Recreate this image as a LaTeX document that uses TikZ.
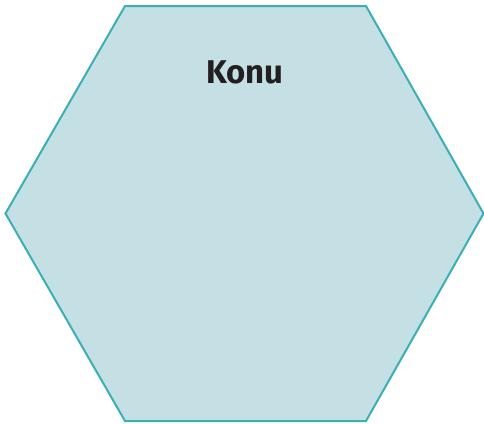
\documentclass[tikz,border=0pt]{standalone}
\usepackage{fontspec}
\setmainfont{Fira Sans}
\definecolor{hexfill}{HTML}{C5E0E4}
\definecolor{hexline}{HTML}{3AAFB5}
\definecolor{txt}{HTML}{231F20}
\begin{document}
\begin{tikzpicture}[x=1bp,y=-1bp,
  hexstyle/.style={fill=hexfill,draw=hexline,line width=2bp,line join=miter},
  titlestyle/.style={font=\fontsize{33}{36}\selectfont\bfseries,text=txt,inner sep=0pt}]
\useasboundingbox (0,0) rectangle (484,423);
\coordinate (tl) at (125,6);
\coordinate (tr) at (366,6);
\coordinate (r) at (483.5,213.5);
\coordinate (br) at (366,421);
\coordinate (bl) at (125,421);
\coordinate (l) at (5.5,213.5);
\draw[hexstyle] (tl) -- (tr) -- (r) -- (br) -- (bl) -- (l) -- cycle;
\node[titlestyle,anchor=base] (title) at (245,83) {Konu};
\end{tikzpicture}
\end{document}
